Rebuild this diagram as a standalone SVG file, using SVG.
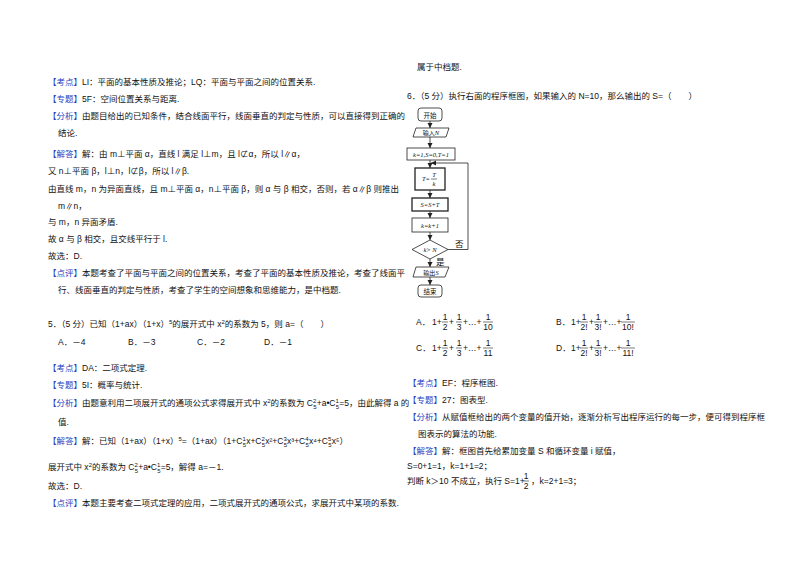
<svg xmlns="http://www.w3.org/2000/svg" width="800" height="565" viewBox="0 0 800 565">
<style>
text{font-family:"Liberation Sans","Noto Sans CJK SC",sans-serif;font-size:8.5px;fill:#111}
.b{fill:#2a3fc0}
.s{font-size:6px}
.f{font-family:"Liberation Serif","Noto Sans CJK SC",serif;font-size:6.5px;font-style:italic}
.box{fill:#fff;stroke:#222;stroke-width:0.8}
.ln{fill:none;stroke:#222;stroke-width:0.8}
.fl{stroke:#222;stroke-width:0.6}
</style>
<defs><marker id="a" markerWidth="6" markerHeight="6" refX="5" refY="3" orient="auto" markerUnits="userSpaceOnUse"><path d="M0,0.5 L5,3 L0,5.5Z" fill="#222"/></marker></defs>
<rect width="800" height="565" fill="#fff"/>
<g id="left">
<text x="48" y="85"><tspan class="b">【考点】</tspan>LI：平面的基本性质及推论；LQ：平面与平面之间的位置关系.</text>
<text x="48" y="102"><tspan class="b">【专题】</tspan>5F：空间位置关系与距离.</text>
<text x="48" y="119"><tspan class="b">【分析】</tspan>由题目给出的已知条件，结合线面平行，线面垂直的判定与性质，可以直接得到正确的</text>
<text x="58" y="136">结论.</text>
<text x="48" y="157"><tspan class="b">【解答】</tspan>解：由 m⊥平面 α，直线 l 满足 l⊥m，且 l⊄α，所以 l∥α，</text>
<text x="48" y="174">又 n⊥平面 β，l⊥n，l⊄β，所以 l∥β.</text>
<text x="48" y="192">由直线 m，n 为异面直线，且 m⊥平面 α，n⊥平面 β，则 α 与 β 相交，否则，若 α∥β 则推出</text>
<text x="58" y="209">m∥n，</text>
<text x="48" y="225">与 m，n 异面矛盾.</text>
<text x="48" y="242">故 α 与 β 相交，且交线平行于 l.</text>
<text x="48" y="259">故选：D.</text>
<text x="48" y="276"><tspan class="b">【点评】</tspan>本题考查了平面与平面之间的位置关系，考查了平面的基本性质及推论，考查了线面平</text>
<text x="58" y="293">行、线面垂直的判定与性质，考查了学生的空间想象和思维能力，是中档题.</text>
<text x="48" y="327">5．（5 分）已知（1+ax）（1+x）<tspan class="s" dy="-3">5</tspan><tspan dy="3">的展开式中 x</tspan><tspan class="s" dy="-3">2</tspan><tspan dy="3">的系数为 5，则 a=（　　）</tspan></text>
<text x="58" y="345">A．－4</text><text x="128" y="345">B．－3</text><text x="197" y="345">C．－2</text><text x="264" y="345">D．－1</text>
<text x="48" y="371"><tspan class="b">【考点】</tspan>DA：二项式定理.</text>
<text x="48" y="388"><tspan class="b">【专题】</tspan>5I：概率与统计.</text>
<text x="48" y="406"><tspan class="b">【分析】</tspan>由题意利用二项展开式的通项公式求得展开式中 x<tspan class="s" dy="-3">2</tspan><tspan dy="3">的系数为 C</tspan><tspan class="s" dy="-3">2</tspan><tspan class="s" dx="-3" dy="6">5</tspan><tspan dy="-3">+a•C</tspan><tspan class="s" dy="-3">1</tspan><tspan class="s" dx="-3" dy="6">5</tspan><tspan dy="-3">=5，由此解得 a 的</tspan></text>
<text x="58" y="425">值.</text>
<text x="48" y="444"><tspan class="b">【解答】</tspan>解：已知（1+ax）（1+x）<tspan class="s" dy="-3">5</tspan><tspan dy="3">=（1+ax）（1+C</tspan><tspan class="s" dy="-3">1</tspan><tspan class="s" dx="-3" dy="6">5</tspan><tspan dy="-3">x+C</tspan><tspan class="s" dy="-3">2</tspan><tspan class="s" dx="-3" dy="6">5</tspan><tspan dy="-3">x²+C</tspan><tspan class="s" dy="-3">3</tspan><tspan class="s" dx="-3" dy="6">5</tspan><tspan dy="-3">x³+C</tspan><tspan class="s" dy="-3">4</tspan><tspan class="s" dx="-3" dy="6">5</tspan><tspan dy="-3">x⁴+C</tspan><tspan class="s" dy="-3">5</tspan><tspan class="s" dx="-3" dy="6">5</tspan><tspan dy="-3">x⁵）</tspan></text>
<text x="48" y="470">展开式中 x<tspan class="s" dy="-3">2</tspan><tspan dy="3">的系数为 C</tspan><tspan class="s" dy="-3">2</tspan><tspan class="s" dx="-3" dy="6">5</tspan><tspan dy="-3">+a•C</tspan><tspan class="s" dy="-3">1</tspan><tspan class="s" dx="-3" dy="6">5</tspan><tspan dy="-3">=5，解得 a=－1.</tspan></text>
<text x="48" y="489">故选：D.</text>
<text x="48" y="506"><tspan class="b">【点评】</tspan>本题主要考查二项式定理的应用，二项式展开式的通项公式，求展开式中某项的系数.</text>
</g>
<g id="right">
<text x="417" y="70">属于中档题.</text>
<text x="407" y="99">6．（5 分）执行右面的程序框图，如果输入的 N=10，那么输出的 S=（　　）</text>
</g>
<g id="connectors">
<path class="ln" d="M430,121 V128" marker-end="url(#a)"/>
<path class="ln" d="M430,137 V148" marker-end="url(#a)"/>
<path class="ln" d="M430,160 V168" marker-end="url(#a)"/>
<path class="ln" d="M430,190 V198" marker-end="url(#a)"/>
<path class="ln" d="M430,211 V218" marker-end="url(#a)"/>
<path class="ln" d="M430,232 V240" marker-end="url(#a)"/>
<path class="ln" d="M430,259 V267" marker-end="url(#a)"/>
<path class="ln" d="M430,277 V285" marker-end="url(#a)"/>
<path class="ln" d="M448,249.5 H468 V163 H431" marker-end="url(#a)"/>
<text x="455" y="247">否</text>
<text x="436" y="265">是</text>
</g>
<g id="n-start"><rect class="box" x="418" y="108" width="24" height="13" rx="3"/><text x="430" y="117.5" text-anchor="middle" style="font-size:6.5px">开始</text></g>
<g id="n-input"><path class="box" d="M416,128 H449 L446,137 H413Z"/><text x="431" y="135" text-anchor="middle" style="font-size:6px">输入<tspan class="f">N</tspan></text></g>
<g id="n-init"><rect class="box" x="407" y="148" width="48" height="12"/><text x="431" y="156.5" text-anchor="middle" class="f">k=1,S=0,T=1</text></g>
<g id="n-t"><rect class="box" x="415" y="168" width="30" height="22" style="stroke-width:1.3"/><text x="422" y="181" class="f">T=</text><text x="434" y="177" class="f" text-anchor="middle">T</text><line class="fl" x1="431" y1="179" x2="437" y2="179"/><text x="434" y="186" class="f" text-anchor="middle">k</text></g>
<g id="n-s"><rect class="box" x="412" y="198" width="36" height="13" style="stroke-width:1.3"/><text x="430" y="207" text-anchor="middle" class="f">S=S+T</text></g>
<g id="n-k"><rect class="box" x="412" y="218" width="36" height="14"/><text x="430" y="227.5" text-anchor="middle" class="f">k=k+1</text></g>
<g id="n-cond"><path class="box" d="M430,240 L448,249.5 L430,259 L412,249.5Z"/><text x="430" y="252" text-anchor="middle" class="f">k&gt; N</text></g>
<g id="n-out"><path class="box" d="M416,267 H449 L445,277 H413Z"/><text x="431" y="274.5" text-anchor="middle" style="font-size:6px">输出<tspan class="f">S</tspan></text></g>
<g id="n-end"><rect class="box" x="418" y="285" width="24" height="12" rx="3"/><text x="430" y="294" text-anchor="middle" style="font-size:6.5px">结束</text></g>
<g id="options">
<text x="416" y="325">A．</text>
<text x="432" y="325">1+</text><text x="445" y="320" text-anchor="middle">1</text><line class="fl" x1="442" y1="322" x2="448" y2="322"/><text x="445" y="330" text-anchor="middle">2</text>
<text x="449" y="325">+</text><text x="459" y="320" text-anchor="middle">1</text><line class="fl" x1="456" y1="322" x2="462" y2="322"/><text x="459" y="330" text-anchor="middle">3</text>
<text x="463" y="325">+…+</text><text x="488" y="320" text-anchor="middle">1</text><line class="fl" x1="483" y1="322" x2="493" y2="322"/><text x="488" y="330" text-anchor="middle">10</text>
<text x="556" y="325">B．</text>
<text x="571" y="325">1+</text><text x="584" y="320" text-anchor="middle">1</text><line class="fl" x1="580" y1="322" x2="588" y2="322"/><text x="584" y="330" text-anchor="middle">2!</text>
<text x="589" y="325">+</text><text x="598" y="320" text-anchor="middle">1</text><line class="fl" x1="594" y1="322" x2="602" y2="322"/><text x="598" y="330" text-anchor="middle">3!</text>
<text x="603" y="325">+…+</text><text x="628" y="320" text-anchor="middle">1</text><line class="fl" x1="621" y1="322" x2="635" y2="322"/><text x="628" y="330" text-anchor="middle">10!</text>
<text x="416" y="351">C．</text>
<text x="432" y="351">1+</text><text x="445" y="346" text-anchor="middle">1</text><line class="fl" x1="442" y1="348" x2="448" y2="348"/><text x="445" y="356" text-anchor="middle">2</text>
<text x="449" y="351">+</text><text x="459" y="346" text-anchor="middle">1</text><line class="fl" x1="456" y1="348" x2="462" y2="348"/><text x="459" y="356" text-anchor="middle">3</text>
<text x="463" y="351">+…+</text><text x="488" y="346" text-anchor="middle">1</text><line class="fl" x1="483" y1="348" x2="493" y2="348"/><text x="488" y="356" text-anchor="middle">11</text>
<text x="556" y="351">D．</text>
<text x="571" y="351">1+</text><text x="584" y="346" text-anchor="middle">1</text><line class="fl" x1="580" y1="348" x2="588" y2="348"/><text x="584" y="356" text-anchor="middle">2!</text>
<text x="589" y="351">+</text><text x="598" y="346" text-anchor="middle">1</text><line class="fl" x1="594" y1="348" x2="602" y2="348"/><text x="598" y="356" text-anchor="middle">3!</text>
<text x="603" y="351">+…+</text><text x="628" y="346" text-anchor="middle">1</text><line class="fl" x1="621" y1="348" x2="635" y2="348"/><text x="628" y="356" text-anchor="middle">11!</text>
</g>
<g id="right2">
<text x="408" y="386"><tspan class="b">【考点】</tspan>EF：程序框图.</text>
<text x="408" y="403"><tspan class="b">【专题】</tspan>27：图表型.</text>
<text x="408" y="420"><tspan class="b">【分析】</tspan>从赋值框给出的两个变量的值开始，逐渐分析写出程序运行的每一步，便可得到程序框</text>
<text x="418" y="437">图表示的算法的功能.</text>
<text x="408" y="454"><tspan class="b">【解答】</tspan>解：框图首先给累加变量 S 和循环变量 i 赋值，</text>
<text x="407" y="469">S=0+1=1，k=1+1=2；</text>
<text x="407" y="484">判断 k＞10 不成立，执行 S=1+</text><text x="526" y="479" text-anchor="middle">1</text><line class="fl" x1="523" y1="481" x2="529" y2="481"/><text x="526" y="489" text-anchor="middle">2</text><text x="531" y="484">，k=2+1=3；</text>
</g>
</svg>
